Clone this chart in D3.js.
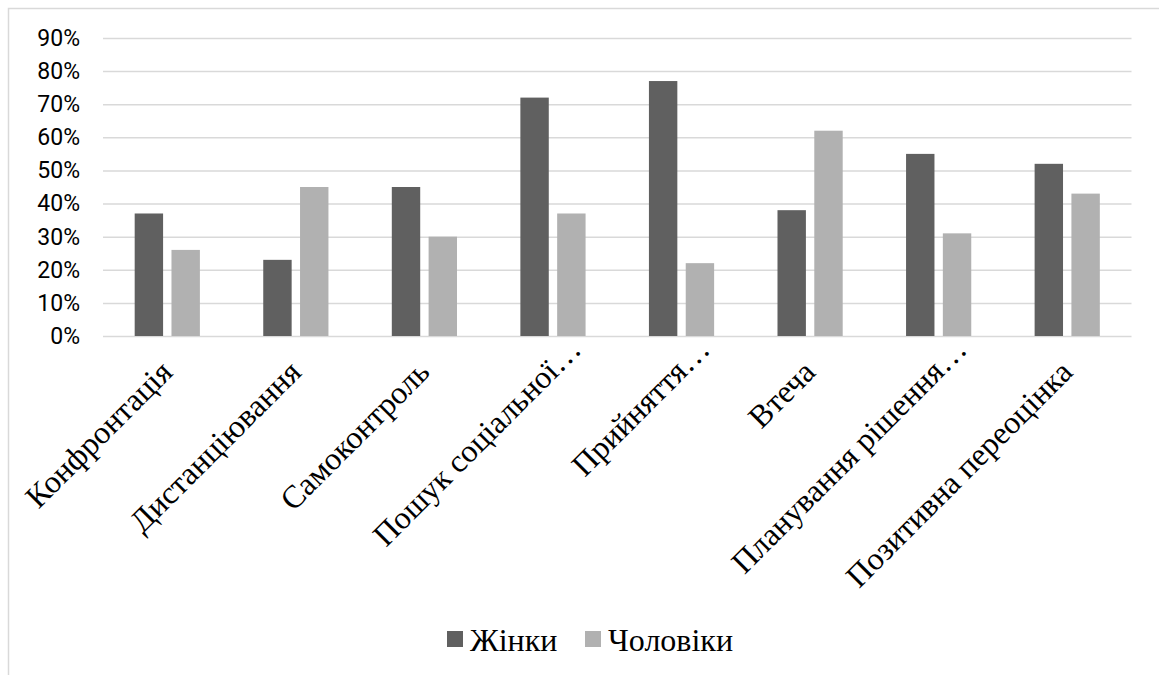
<!DOCTYPE html>
<html lang="uk">
<head>
<meta charset="utf-8">
<script src="https://cdn.jsdelivr.net/npm/d3@7"></script>
<style>
  html, body { margin: 0; padding: 0; background: #fff; }
  svg { display: block; }
</style>
</head>
<body>
<svg id="chart" width="1159" height="675"></svg>
<script>
// Coping strategies by gender, share of respondents
const categories = [
  "Конфронтація",
  "Дистанціювання",
  "Самоконтроль",
  "Пошук соціальної…",
  "Прийняття…",
  "Втеча",
  "Планування рішення…",
  "Позитивна переоцінка"
];
const seriesNames = ["Жінки", "Чоловіки"];
const women = [0.37, 0.23, 0.45, 0.72, 0.77, 0.38, 0.55, 0.52];
const men   = [0.26, 0.45, 0.30, 0.37, 0.22, 0.62, 0.31, 0.43];
const yTicks = [0, 0.1, 0.2, 0.3, 0.4, 0.5, 0.6, 0.7, 0.8, 0.9];

const colors = { "Жінки": "#606060", "Чоловіки": "#b1b1b1" };
const values = { "Жінки": women, "Чоловіки": men };

const svg = d3.select("#chart");
const W = 1159, H = 675;

// chart frame (only top and left edges fall inside the page)
svg.append("rect")
  .attr("x", 8.5).attr("y", 8.5)
  .attr("width", W + 20).attr("height", H + 20)
  .attr("fill", "#fff")
  .attr("stroke", "#d9d9d9")
  .attr("stroke-width", 1.5);

const plot = { left: 103, right: 1131.5, top: 38, bottom: 336 };

const x = d3.scaleBand()
  .domain(categories)
  .range([plot.left, plot.right])
  .paddingInner(0).paddingOuter(0);

const xSub = d3.scaleBand()
  .domain(seriesNames)
  .range([0, x.bandwidth()])
  .paddingInner(0.228)
  .paddingOuter(0.861);

const y = d3.scaleLinear()
  .domain([0, 0.9])
  .range([plot.bottom, plot.top]);

// horizontal gridlines and percentage labels
const yAxis = d3.axisLeft(y)
  .tickValues(yTicks)
  .tickFormat(d3.format(".0%"))
  .tickSize(-(plot.right - plot.left))
  .tickPadding(23);

const gy = svg.append("g")
  .attr("transform", `translate(${plot.left},0)`)
  .call(yAxis);
gy.select(".domain").remove();
gy.selectAll(".tick line")
  .attr("stroke", "#d9d9d9")
  .attr("stroke-width", 1.5);
gy.selectAll(".tick text")
  .attr("fill", "#000")
  .style("font-family", "Roboto, 'Liberation Sans', sans-serif")
  .style("font-size", "23px");

// bars
const groups = svg.append("g")
  .selectAll("g")
  .data(seriesNames)
  .join("g")
  .attr("fill", s => colors[s]);

groups.selectAll("rect")
  .data(s => categories.map((c, i) => ({ s, c, v: values[s][i] })))
  .join("rect")
  .attr("x", d => x(d.c) + xSub(d.s))
  .attr("y", d => y(d.v))
  .attr("width", xSub.bandwidth())
  .attr("height", d => y(0) - y(d.v));

// category labels, rotated
const xAxis = d3.axisBottom(x).tickSize(0).tickPadding(0);
const gx = svg.append("g")
  .attr("transform", `translate(0,${plot.bottom})`)
  .call(xAxis);
gx.select(".domain").remove();
gx.selectAll(".tick text")
  .attr("fill", "#000")
  .attr("text-anchor", "end")
  .attr("dy", null)
  .attr("y", null)
  .style("font-family", "'Liberation Serif', 'Times New Roman', serif")
  .style("font-size", "32px")
  .attr("transform", d => {
    const shift = d.endsWith("…") ? 23 : 0;
    return `translate(${7 + shift},${38 - shift}) rotate(-45)`;
  });

// legend
const legend = svg.append("g").attr("transform", "translate(447,0)");
const legendItems = legend.selectAll("g")
  .data(seriesNames)
  .join("g")
  .attr("transform", (d, i) => `translate(${i * 138},0)`);
legendItems.append("rect")
  .attr("x", 0).attr("y", 631)
  .attr("width", 16).attr("height", 16)
  .attr("fill", d => colors[d]);
legendItems.append("text")
  .attr("x", 23).attr("y", 651)
  .attr("fill", "#000")
  .style("font-family", "'Liberation Serif', 'Times New Roman', serif")
  .style("font-size", "32px")
  .text(d => d);
</script>
</body>
</html>
